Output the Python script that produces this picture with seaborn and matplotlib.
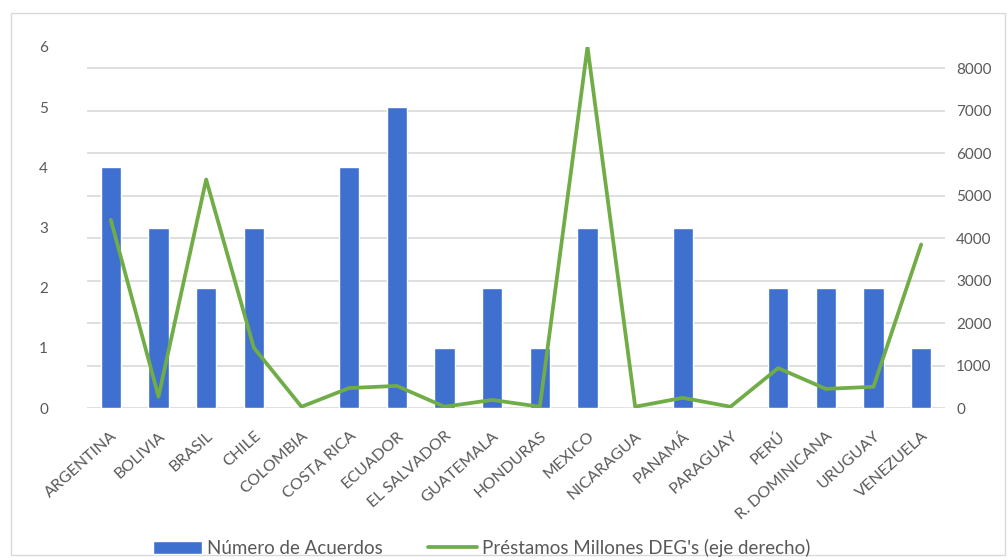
import numpy as np
import pandas as pd
import matplotlib
matplotlib.use("Agg")
import matplotlib.pyplot as plt
import seaborn as sns
from matplotlib.patches import Rectangle

# Data
paises = ["ARGENTINA", "BOLIVIA", "BRASIL", "CHILE", "COLOMBIA", "COSTA RICA",
          "ECUADOR", "EL SALVADOR", "GUATEMALA", "HONDURAS", "MEXICO",
          "NICARAGUA", "PANAMÁ", "PARAGUAY", "PERÚ", "R. DOMINICANA",
          "URUGUAY", "VENEZUELA"]
acuerdos = [4, 3, 2, 3, 0, 4, 5, 1, 2, 1, 3, 0, 3, 0, 2, 2, 2, 1]
prestamos = [4430, 270, 5380, 1420, 30, 470, 520, 30, 190, 30, 8500,
             30, 240, 30, 940, 450, 500, 3850]
left_ticks = [0, 1, 2, 3, 4, 5, 6]
right_ticks = [0, 1000, 2000, 3000, 4000, 5000, 6000, 7000, 8000]

BLUE = "#3F6FCF"
GREEN = "#70AD47"
TXT = "#595959"

sns.set_style("white")
plt.rcParams['font.family'] = ['Lato', 'DejaVu Sans']

df = pd.DataFrame({"pais": paises, "acuerdos": acuerdos,
                   "prestamos": prestamos, "pos": np.arange(len(paises))})

fig = plt.figure(figsize=(10.08, 5.6), dpi=100)
ax = fig.add_axes([87 / 1008, 1 - 408 / 560, (945 - 87) / 1008, (408 - 47) / 560])
ax2 = ax.twinx()

# secondary axis carries the gridlines, keep it under the bars
ax2.set_zorder(0)
ax.set_zorder(1)
ax.patch.set_visible(False)

sns.barplot(data=df, x="pos", y="acuerdos", color=BLUE, width=0.42,
            saturation=1, ax=ax, label="Número de Acuerdos")

# line belongs to the right axis; drawn on the left axes (scaled) so it sits on top of bars
ymax_right = 8500
sns.lineplot(x=df["pos"], y=df["prestamos"] * 6 / ymax_right, color=GREEN,
             linewidth=2.7, sort=False, ax=ax,
             label="Préstamos Millones DEG's (eje derecho)", legend=False)
ax.lines[-1].set_solid_joinstyle("round")

ax.set_ylim(0, 6)
ax2.set_ylim(0, ymax_right)
ax.set_xlim(-0.5, len(paises) - 0.5)
ax.set_yticks(left_ticks)
ax2.set_yticks(right_ticks)
ax.set_xticks(df["pos"])
ax.set_xticklabels(paises, rotation=42, ha="right", rotation_mode="anchor")

ax2.yaxis.grid(True, color="#D9D9D9", linewidth=1.2)
ax.yaxis.grid(False)
for a in (ax, ax2):
    for s in a.spines.values():
        s.set_visible(False)
    a.set_xlabel("")
    a.set_ylabel("")
ax.tick_params(axis="y", length=0, pad=28, labelsize=11, labelcolor=TXT)
ax2.tick_params(axis="y", length=0, pad=8, labelsize=11, labelcolor=TXT)
ax.tick_params(axis="x", length=0, pad=15, labelsize=11.5, labelcolor=TXT)
ax2.tick_params(axis="x", length=0)

if ax.get_legend() is not None:
    ax.get_legend().remove()
h, l = ax.get_legend_handles_labels()
order = [l.index("Número de Acuerdos"), l.index("Préstamos Millones DEG's (eje derecho)")]
fig.legend([h[i] for i in order], [l[i] for i in order], loc="center",
           bbox_to_anchor=(0.478, 0.022), ncol=2, frameon=False, fontsize=13.5,
           labelcolor=TXT, handlelength=2.6, handletextpad=0.3, columnspacing=2.4)

fig.patches.append(Rectangle((11 / 1008, 5 / 560), 994 / 1008, 542 / 560,
                             transform=fig.transFigure, fill=False,
                             edgecolor="#D9D9D9", linewidth=1))

fig.savefig("out.png", dpi=100)
